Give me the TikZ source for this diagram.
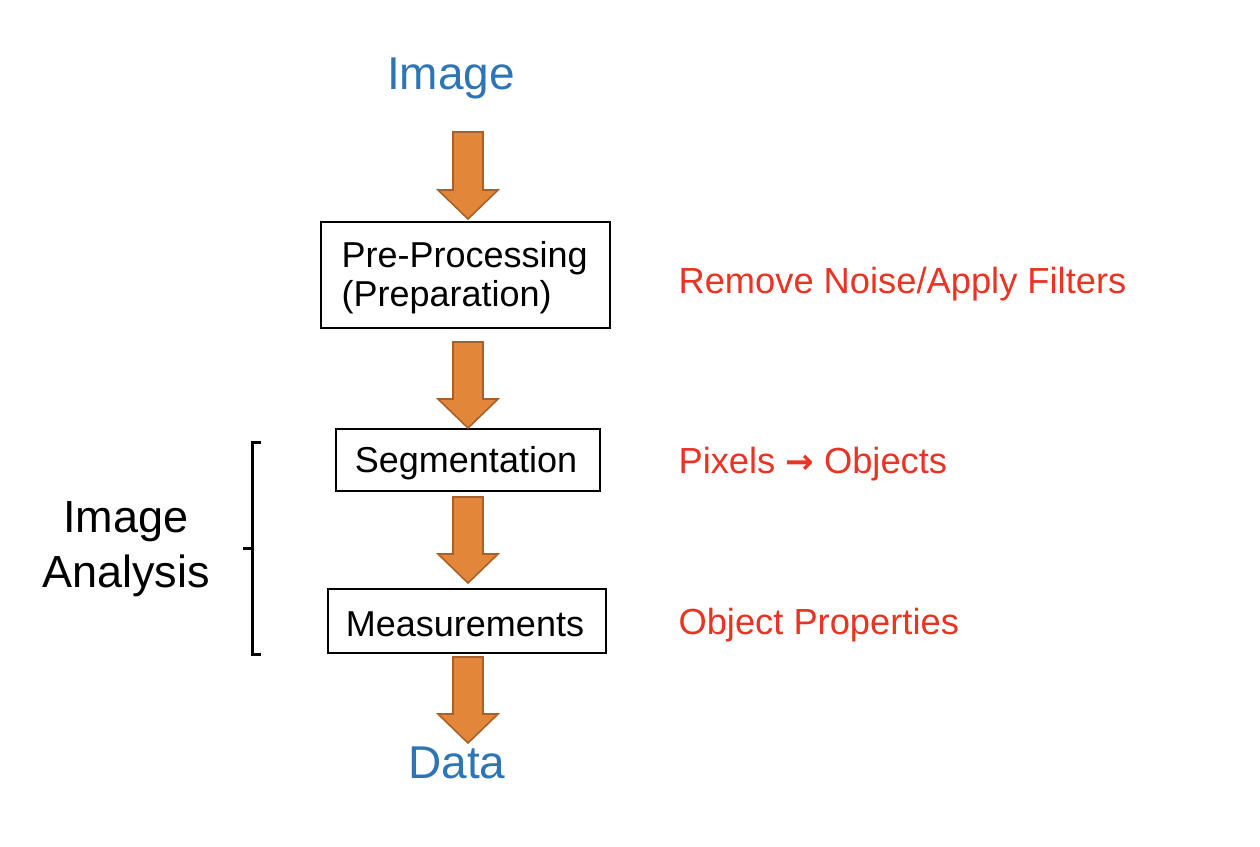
\documentclass[tikz,border=0pt]{standalone}
\usepackage{fontspec}
\setmainfont{Liberation Sans}
\newfontfamily\symfont{DejaVu Sans}
\definecolor{titleblue}{RGB}{46,117,182}
\definecolor{notered}{RGB}{234,51,35}
\definecolor{arrowfill}{RGB}{226,135,58}
\definecolor{arrowline}{RGB}{170,95,40}
\tikzset{
  stepbox/.style={draw=black, line width=1.6pt, fill=white, inner sep=0pt},
  boxtext/.style={font=\fontsize{36}{39}\selectfont, align=left},
  titletext/.style={font=\fontsize{46}{50}\selectfont, text=titleblue},
  notetext/.style={font=\fontsize{36.3}{40}\selectfont, text=notered, anchor=west},
  blockarrow/.style={fill=arrowfill, draw=arrowline, line width=1.6pt, line join=miter},
}
\begin{document}
\begin{tikzpicture}[x=1pt,y=-1pt]
\useasboundingbox (0,0) rectangle (1260,846);
% titles
\node[titletext, anchor=base] (img) at (451,89) {Image};
\node[titletext, anchor=base] (data) at (457,778) {Data};
% boxes
\node[stepbox, minimum width=289pt, minimum height=106pt] (pre) at (465.5,275) {};
\node[boxtext, anchor=west] (pretext) at (338,278) {Pre-Processing\\(Preparation)};
\node[stepbox, minimum width=264pt, minimum height=62pt] (seg) at (468,460) {};
\node[boxtext] (segtext) at (466,463) {Segmentation};
\node[stepbox, minimum width=278pt, minimum height=64pt] (meas) at (467,621) {};
\node[boxtext] (meastext) at (465,624) {Measurements};
% notes
\node[notetext] (n1) at (675,284) {Remove Noise/Apply Filters};
\node[notetext] (n2) at (675,464) {Pixels {\symfont\bfseries\fontsize{34}{36}\selectfont →} Objects};
\node[notetext] (n3) at (675,625) {Object Properties};
% side label
\node[font=\fontsize{45}{55}\selectfont, align=center] (ia) at (126,549) {Image\\Analysis};
% bracket
\coordinate (bt) at (261,442);
\coordinate (bb) at (261,654);
\draw[line width=3pt, line cap=butt, line join=miter] (bt) -- (252,442) -- (252,654) -- (bb);
\draw[line width=3pt] (252,548) -- (243,548);
% block arrows
\foreach \t/\b [count=\i] in {132/219, 342/428, 497/583, 657/743}{
  \draw[blockarrow] (453,\t) -- (483,\t) -- (483,\b-29) -- (498,\b-29) -- (468,\b)
     -- (438,\b-29) -- (453,\b-29) -- cycle;
}
\end{tikzpicture}
\end{document}
